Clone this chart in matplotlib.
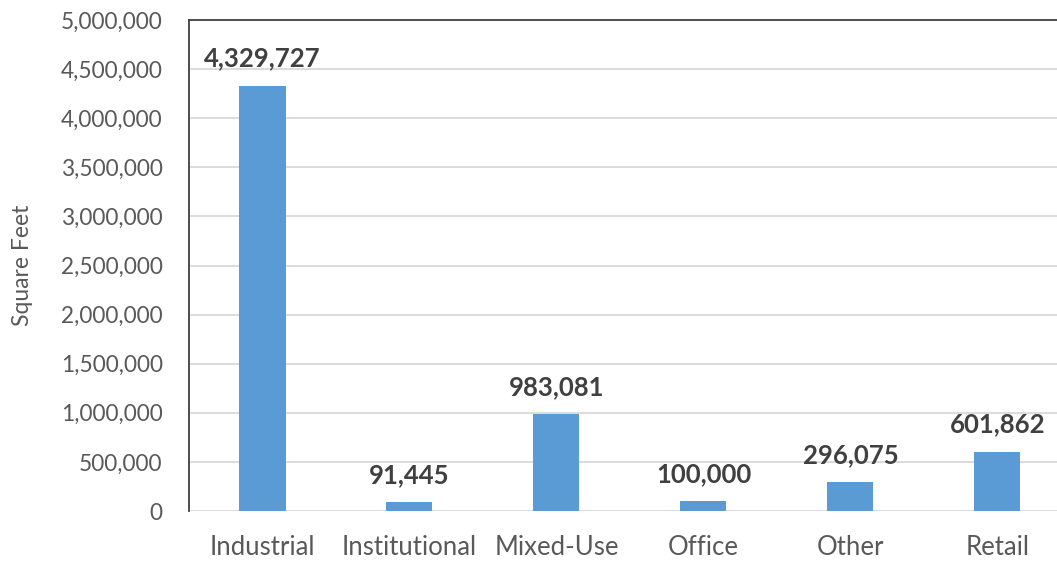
import matplotlib.pyplot as plt
from matplotlib.ticker import FuncFormatter

categories = ["Industrial", "Institutional", "Mixed-Use", "Office", "Other", "Retail"]
square_feet = [4329727, 91445, 983081, 100000, 296075, 601862]

plt.rcParams['font.family'] = ['Lato', 'DejaVu Sans']

fig = plt.figure(figsize=(10.57, 5.61), dpi=100)
ax = fig.add_axes([189 / 1057, 50 / 561, 868 / 1057, 491 / 561])

x = range(len(categories))
bars = ax.bar(x, square_feet, width=0.313, color="#5B9BD5", zorder=3)

ax.set_xlim(-0.5, 5.405)
ax.set_ylim(0, 5000000)
ax.set_yticks(range(0, 5000001, 500000))
ax.yaxis.set_major_formatter(FuncFormatter(lambda v, p: f"{int(v):,}"))
ax.grid(axis="y", color="#D9D9D9", linewidth=1.3, zorder=0)

ax.set_xticks(list(x))
ax.set_xticklabels(categories)
ax.tick_params(axis="both", length=0, labelcolor="#595959")
ax.tick_params(axis="x", pad=17, labelsize=18.5)
ax.tick_params(axis="y", pad=19, labelsize=16.3)

for s in ["right", "bottom"]:
    ax.spines[s].set_visible(False)
for s in ["left", "top"]:
    ax.spines[s].set_color("#404040")
    ax.spines[s].set_linewidth(1.3)

ax.set_ylabel("Square Feet", fontsize=16.5, color="#595959", labelpad=20)

for b, v in zip(bars, square_feet):
    ax.annotate(f"{v:,}", (b.get_x() + b.get_width() / 2, v),
                xytext=(0, 11), textcoords="offset points",
                ha="center", va="bottom", fontsize=18.5, fontweight="bold",
                color="#404040")

fig.savefig("out.png", dpi=100)
